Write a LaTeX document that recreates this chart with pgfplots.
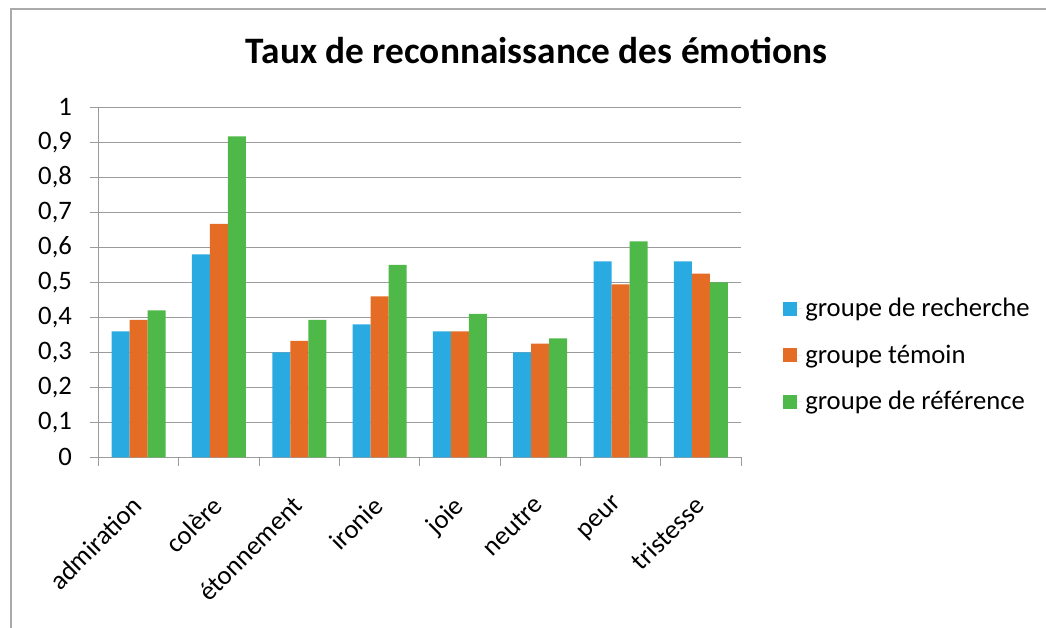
\documentclass[border=0pt]{standalone}
\usepackage{pgfplots}
\pgfplotsset{compat=1.18}
\usepackage{fontspec}
\setmainfont{Carlito}
\definecolor{cblue}{RGB}{41,171,226}
\definecolor{corange}{RGB}{229,108,37}
\definecolor{cgreen}{RGB}{78,184,72}
\definecolor{cgrid}{RGB}{155,155,155}
\definecolor{cframe}{RGB}{170,170,170}
\begin{document}
\begin{tikzpicture}[x=0.75pt,y=0.75pt]
\useasboundingbox (0,0) rectangle (1046,628);
\draw[cframe, line width=1.1pt] (11,-5) -- (11,619) -- (1051,619);
\node[font=\bfseries\fontsize{28}{33}\selectfont, anchor=base, inner sep=0pt] at (536.5,564) {Taux de reconnaissance des émotions};
\begin{axis}[
  at={(73.875pt,128.0pt)}, anchor=south west,
  scale only axis, width=481.875pt, height=262.5pt,
  xmin=-0.5, xmax=7.5, ymin=0, ymax=1,
  ybar=0pt, bar width=13.5pt,
  axis x line*=bottom, axis y line*=left,
  axis line style={cgrid, line width=0.75pt, -},
  ymajorgrids, grid style={cgrid, line width=0.75pt},
  ytick={0,0.1,...,1},
  y tick label style={font=\fontsize{20}{24}\selectfont},
  yticklabel shift=10pt,
  /pgf/number format/use comma, /pgf/number format/fixed, /pgf/number format/precision=1,
  /pgf/number format/assume math mode=true,
  tick align=outside, major tick length=6.4pt,
  tick style={cgrid, line width=0.75pt},
  xtick={-0.5,0.5,...,7.5}, xticklabels={},
  extra x ticks={0,1,2,3,4,5,6,7},
  extra x tick labels={admiration,colère,étonnement,ironie,joie,neutre,peur,tristesse},
  extra x tick style={grid=none, major tick length=0pt},
  x tick label style={xshift=-6pt, rotate=45, anchor=north east, font=\fontsize{20}{24}\selectfont},
  xticklabel shift=23pt,
  legend image code/.code={\path (0pt,0pt) -- (14.5pt,0pt); \fill[#1] (0pt,-5.25pt) rectangle (10.5pt,5.25pt);},
  legend style={draw=none, fill=none, at={(1.0654,0.292)}, anchor=west,
    font=\fontsize{20}{24}\selectfont, row sep=15.5pt, inner sep=0pt},
  legend cell align=left,
]
\addplot[draw=none, fill=cblue] coordinates {(0,0.36) (1,0.58) (2,0.30) (3,0.38) (4,0.36) (5,0.30) (6,0.56) (7,0.56)};
\addplot[draw=none, fill=corange] coordinates {(0,0.393) (1,0.667) (2,0.333) (3,0.46) (4,0.36) (5,0.325) (6,0.494) (7,0.525)};
\addplot[draw=none, fill=cgreen] coordinates {(0,0.42) (1,0.917) (2,0.393) (3,0.55) (4,0.41) (5,0.34) (6,0.617) (7,0.50)};
\legend{groupe de recherche, groupe témoin, groupe de référence}
\end{axis}
\end{tikzpicture}
\end{document}
